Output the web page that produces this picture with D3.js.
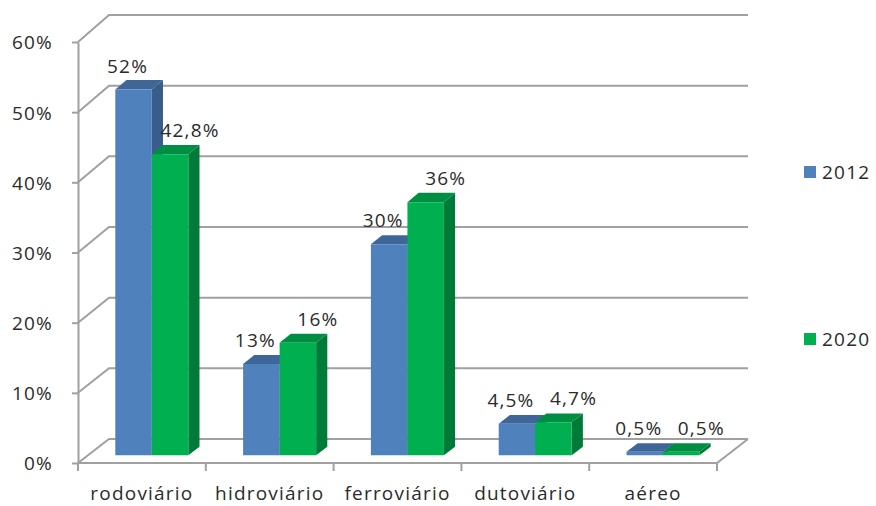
<!DOCTYPE html>
<html>
<head>
<meta charset="utf-8">
<script src="https://cdn.jsdelivr.net/npm/d3@7"></script>
<style>
  html, body { margin: 0; padding: 0; background: #fff; }
  text { font-family: "Open Sans", "DejaVu Sans", sans-serif; font-size: 19px; fill: #2b2b2b; letter-spacing: 1.2px; }
</style>
</head>
<body>
<script>
// Share of each transport mode in cargo movement, 2012 vs 2020 target
const categories = ["rodoviário", "hidroviário", "ferroviário", "dutoviário", "aéreo"];
const years = ["2012", "2020"];
const values2012 = [52, 13, 30, 4.5, 0.5];
const values2020 = [42.8, 16, 36, 4.7, 0.5];
const yTicks = [0, 10, 20, 30, 40, 50, 60];

const seriesValues = [values2012, values2020];
const colors = {
  "2012": { front: "#4F81BD", side: "#385D8A", top: "#3E6699" },
  "2020": { front: "#00B050", side: "#007A38", top: "#008E43" }
};

const W = 876, H = 506;
const svg = d3.select("body").append("svg").attr("width", W).attr("height", H);

// pt-BR number formatting (comma as decimal separator)
const ptBR = d3.formatLocale({ decimal: ",", thousands: ".", grouping: [3], currency: ["R$", ""] });
const fmt = v => ptBR.format(".1~f")(v) + "%";

// Scales: categories along the front edge, value scales on the front and back planes
const x0 = d3.scaleBand().domain(categories).range([78, 717]);
const x1 = d3.scaleBand().domain(years).range([0, x0.bandwidth()]).paddingOuter(0.75);
const yFront = d3.scaleLinear().domain([0, 60]).range([463, 42]);
const yBack = d3.scaleLinear().domain([0, 60]).range([439, 15]);
const DEPTH_DX = 31;

// Oblique projection: z = 0 front plane, z = 1 back wall
function proj(px, v, z) {
  return [px + z * DEPTH_DX, yFront(v) * (1 - z) + yBack(v) * z];
}
const line = d3.line();

const [xl, xr] = x0.range();
const gridColor = "#A0A0A0";

// Back wall gridlines with their side-wall diagonals
const grid = svg.append("g");
yTicks.forEach(t => {
  grid.append("path")
    .attr("d", line([proj(xl, t, 0), proj(xl, t, 1), proj(xr, t, 1)]))
    .attr("fill", "none").attr("stroke", gridColor).attr("stroke-width", 2);
});
// Floor outline (front and right edges)
grid.append("path")
  .attr("d", line([proj(xl, 0, 0), proj(xr, 0, 0), proj(xr, 0, 1)]))
  .attr("fill", "none").attr("stroke", gridColor).attr("stroke-width", 2);

// Value axis on the front plane
const yAxis = svg.append("g")
  .attr("transform", `translate(${xl},0)`)
  .call(d3.axisLeft(yFront).tickValues(yTicks).tickFormat(d => d + "%").tickSize(6).tickSizeOuter(0));
yAxis.attr("font-size", null).attr("font-family", null);
yAxis.select(".domain").attr("stroke", gridColor).attr("stroke-width", 2);
yAxis.selectAll(".tick line").attr("stroke", gridColor).attr("stroke-width", 2);
yAxis.selectAll(".tick text").attr("fill", null).attr("x", -25).attr("dy", "0.36em");

// Category axis: labels at band centres, tick marks at band boundaries
const xAxis = svg.append("g")
  .attr("transform", `translate(0,${yFront(0)})`)
  .call(d3.axisBottom(x0).tickSize(0));
xAxis.attr("font-size", null).attr("font-family", null);
xAxis.select(".domain").remove();
xAxis.selectAll(".tick text").attr("fill", null).attr("y", 37).attr("dy", 0);
const boundaries = categories.map(c => x0(c)).concat([xr]);
svg.append("g").selectAll("line").data(boundaries).join("line")
  .attr("x1", d => d).attr("x2", d => d)
  .attr("y1", yFront(0)).attr("y2", yFront(0) + 8)
  .attr("stroke", gridColor).attr("stroke-width", 2);

// 3D bars, drawn left to right so each front face hides the previous side face
const z0 = 0.32, z1 = 0.68;
const bars = [];
categories.forEach((c, i) => {
  years.forEach((y, s) => {
    bars.push({ cat: c, year: y, value: seriesValues[s][i], s });
  });
});
const barG = svg.append("g");
bars.forEach(b => {
  const left = x0(b.cat) + x1(b.year);
  const right = left + x1.bandwidth();
  const v = b.value;
  const col = colors[b.year];
  const g = barG.append("g");
  g.append("path").attr("fill", col.side)
    .attr("d", line([proj(right, 0, z0), proj(right, 0, z1), proj(right, v, z1), proj(right, v, z0)]) + "Z");
  g.append("path").attr("fill", col.top)
    .attr("d", line([proj(left, v, z0), proj(right, v, z0), proj(right, v, z1), proj(left, v, z1)]) + "Z");
  g.append("path").attr("fill", col.front)
    .attr("d", line([proj(left, 0, z0), proj(right, 0, z0), proj(right, v, z0), proj(left, v, z0)]) + "Z");
});

// Value labels above the bars
const labelShift = { "2012": -6, "2020": 20 };
svg.append("g").selectAll("text").data(bars).join("text")
  .attr("text-anchor", "middle")
  .attr("x", d => proj(x0(d.cat) + x1(d.year) + x1.bandwidth() / 2, d.value, z0)[0] + labelShift[d.year])
  .attr("y", d => proj(0, d.value, z0)[1] - 17)
  .text(d => fmt(d.value));

// Legend
const legendY = { "2012": 172, "2020": 339 };
const legend = svg.append("g");
years.forEach(y => {
  legend.append("rect").attr("x", 804).attr("y", legendY[y] - 6).attr("width", 12).attr("height", 12)
    .attr("fill", colors[y].front);
  legend.append("text").attr("x", 822).attr("y", legendY[y]).attr("dy", "0.36em").text(y);
});
</script>
</body>
</html>
